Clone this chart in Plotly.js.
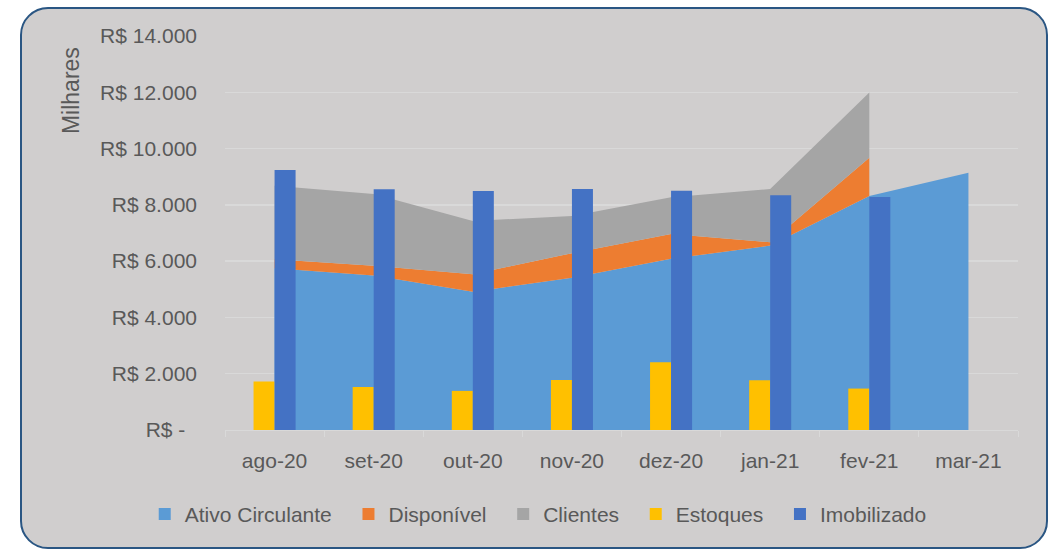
<!DOCTYPE html>
<html>
<head>
<meta charset="utf-8">
<script src="https://cdn.plot.ly/plotly-3.0.1.min.js"></script>
<style>
  html, body { margin: 0; padding: 0; background: #ffffff; }
  #frame {
    position: absolute; left: 20px; top: 7px; width: 1028px; height: 542px;
    box-sizing: border-box; border: 2px solid #2a5683; border-radius: 28px;
    background: #d0cece;
  }
  #chart { position: absolute; left: 0; top: 0; width: 1051px; height: 550px; }
</style>
</head>
<body>
<div id="frame"></div>
<div id="chart"></div>
<script>
// ---- data (R$ milhares) ----
const months = ["ago-20", "set-20", "out-20", "nov-20", "dez-20", "jan-21", "fev-21", "mar-21"];
const ativoCirculante = [5745, 5490, 4910, 5408, 6082, 6553, 8316, 9142];
const disponivel      = [325, 343, 628, 875, 886, 121, 1358, null];
const clientes        = [2610, 2554, 1892, 1324, 1302, 1890, 2319, null];
const estoques        = [1720, 1530, 1390, 1780, 2405, 1766, 1472, null];
const imobilizado     = [9240, 8553, 8493, 8564, 8505, 8340, 8280, null];
const yTickVals  = [0, 2000, 4000, 6000, 8000, 10000, 12000, 14000];
const yTickText  = ["R$ -\u00a0\u00a0", "R$ 2.000", "R$ 4.000", "R$ 6.000", "R$ 8.000", "R$ 10.000", "R$ 12.000", "R$ 14.000"];
const seriesNames = ["Ativo Circulante", "Disponível", "Clientes", "Estoques", "Imobilizado"];

const colors = {
  ac: "#5B9BD5", disp: "#ED7D31", cli: "#A5A5A5", est: "#FFC000", imo: "#4472C4"
};

// legend label padding so the entries are spaced like the original
const pad = "\u00a0\u00a0";
const legName = (i) => seriesNames[i] + (i < seriesNames.length - 1 ? pad : "");

// stacked boundaries for the areas (only where the series has values)
const idx = months.map((m, i) => i).filter(i => disponivel[i] !== null);
const mSub = idx.map(i => months[i]);
const lvl1 = idx.map(i => ativoCirculante[i]);
const lvl2 = idx.map(i => ativoCirculante[i] + disponivel[i]);
const lvl3 = idx.map(i => ativoCirculante[i] + disponivel[i] + clientes[i]);
const rev = a => a.slice().reverse();

const traces = [
  { type: "scatter", mode: "lines", x: months, y: ativoCirculante, fill: "tozeroy",
    fillcolor: colors.ac, line: { width: 0, color: colors.ac }, showlegend: false,
    xaxis: "x", yaxis: "y", hoverinfo: "skip" },
  { type: "scatter", mode: "lines", x: mSub.concat(rev(mSub)), y: lvl2.concat(rev(lvl1)), fill: "toself",
    fillcolor: colors.disp, line: { width: 0, color: colors.disp }, showlegend: false,
    xaxis: "x", yaxis: "y", hoverinfo: "skip" },
  { type: "scatter", mode: "lines", x: mSub.concat(rev(mSub)), y: lvl3.concat(rev(lvl2)), fill: "toself",
    fillcolor: colors.cli, line: { width: 0, color: colors.cli }, showlegend: false,
    xaxis: "x", yaxis: "y", hoverinfo: "skip" },
  // legend entries for the areas
  { type: "bar", name: legName(0), x: [months[0]], y: [null], marker: { color: colors.ac }, xaxis: "x2", yaxis: "y2" },
  { type: "bar", name: legName(1), x: [months[0]], y: [null], marker: { color: colors.disp }, xaxis: "x2", yaxis: "y2" },
  { type: "bar", name: legName(2), x: [months[0]], y: [null], marker: { color: colors.cli }, xaxis: "x2", yaxis: "y2" },
  // bars
  { type: "bar", name: legName(3), x: months, y: estoques, width: 0.212, offset: -0.212,
    marker: { color: colors.est, line: { width: 0 } }, xaxis: "x2", yaxis: "y2" },
  { type: "bar", name: legName(4), x: months, y: imobilizado, width: 0.212, offset: 0,
    marker: { color: colors.imo, line: { width: 0 } }, xaxis: "x2", yaxis: "y2" }
];

const font = { family: "Liberation Sans, Arial, sans-serif", size: 21, color: "#595959" };

const layout = {
  width: 1051, height: 550,
  margin: { l: 225, r: 33, t: 36, b: 120 },
  paper_bgcolor: "rgba(0,0,0,0)",
  plot_bgcolor: "rgba(0,0,0,0)",
  font: font,
  barmode: "overlay",
  showlegend: true,
  legend: {
    orientation: "h", x: 0.395, xanchor: "center", y: -0.214, yanchor: "middle",
    font: font, bgcolor: "rgba(0,0,0,0)", traceorder: "normal"
  },
  xaxis: {
    type: "category", categoryorder: "array", categoryarray: months,
    range: [-0.5, 7.5], showgrid: false, zeroline: false,
    showline: true, linecolor: "#d9d9d9", linewidth: 1,
    ticks: "outside", tickson: "boundaries", ticklen: 6, tickcolor: "#d9d9d9",
    ticklabelstandoff: 12, tickfont: font, fixedrange: true
  },
  yaxis: {
    range: [0, 14000], tickvals: yTickVals, ticktext: yTickText,
    showgrid: true, gridcolor: "#d9d9d9", gridwidth: 1.3,
    zeroline: false, showline: false, ticks: "",
    ticklabelstandoff: 27, tickfont: font, fixedrange: true
  },
  xaxis2: {
    type: "category", categoryorder: "array", categoryarray: months,
    range: [-0.5, 7.5], overlaying: "x", anchor: "y2", visible: false, fixedrange: true
  },
  yaxis2: {
    range: [0, 14000], overlaying: "y", anchor: "x2", visible: false, fixedrange: true
  },
  annotations: [{
    text: "Milhares", xref: "paper", yref: "paper",
    x: -0.194, y: 0.8606, xanchor: "center", yanchor: "middle",
    textangle: -90, showarrow: false,
    font: { family: font.family, size: 23, color: "#595959" }
  }]
};

Plotly.newPlot("chart", traces, layout, { displayModeBar: false, staticPlot: true });
</script>
</body>
</html>
